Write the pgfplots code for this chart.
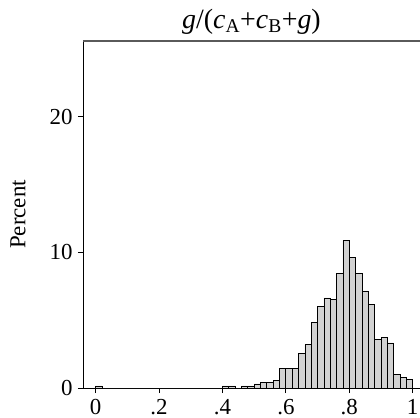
\documentclass[border=0pt]{standalone}
\usepackage{fontspec}
\setmainfont{Liberation Serif}
\usepackage{pgfplots}
\pgfplotsset{compat=1.18}
\definecolor{barfill}{RGB}{210,210,210}
\definecolor{frametop}{RGB}{90,90,90}
\begin{document}
\begin{tikzpicture}
\begin{axis}[
    scale only axis,
    width=337bp, height=347bp,
    xmin=-0.040, xmax=1.023,
    ymin=0, ymax=25.6,
    axis x line=bottom, axis y line=left,
    axis line style={-, line width=0.9bp, black},
    tick align=outside,
    major tick length=5bp,
    tick style={line width=0.9bp, black},
    xtick={0,0.2,0.4,0.6,0.8,1},
    xticklabels={0,.2,.4,.6,.8,1},
    ytick={0,10,20},
    yticklabels={0,10,20},
    tick label style={font=\fontsize{23}{27}\selectfont},
    xticklabel style={anchor=base, yshift=-21bp},
    yticklabel style={anchor=east, xshift=-2bp},
    title={\textit{g}/(\textit{c}\textsubscript{A}+\textit{c}\textsubscript{B}+\textit{g})},
    title style={at={(axis description cs:0.5,1)}, anchor=base, yshift=7bp,
                 font=\fontsize{28}{32}\selectfont},
    ylabel={Percent},
    every axis y label/.style={at={(axis description cs:0,0.5)},
                 xshift=-65bp, rotate=90, anchor=center,
                 font=\fontsize{23}{27}\selectfont},
    clip=false,
]
% 50 bins of width .02 on [0,1]
\addplot[ybar interval, fill=barfill, draw=black, line width=0.8bp] coordinates {
(0.00,0.15) (0.02,0) (0.04,0) (0.06,0) (0.08,0) (0.10,0) (0.12,0) (0.14,0)
(0.16,0) (0.18,0) (0.20,0) (0.22,0) (0.24,0) (0.26,0) (0.28,0) (0.30,0)
(0.32,0) (0.34,0) (0.36,0) (0.38,0)
(0.40,0.15) (0.42,0.15) (0.44,0) (0.46,0.15) (0.48,0.15)
(0.50,0.30) (0.52,0.42) (0.54,0.42) (0.56,0.55) (0.58,1.41)
(0.60,1.41) (0.62,1.41) (0.64,2.55) (0.66,3.18) (0.68,4.86)
(0.70,6.00) (0.72,6.64) (0.74,6.52) (0.76,8.43) (0.78,10.88)
(0.80,9.61) (0.82,8.43) (0.84,7.16) (0.86,6.15) (0.88,3.57)
(0.90,3.70) (0.92,3.32) (0.94,1.00) (0.96,0.80) (0.98,0.63)
(1.00,0.63)
};
\draw[frametop, line width=1.5bp] (rel axis cs:0,1) -- (rel axis cs:1,1);
\coordinate (ll) at (rel axis cs:0,0);
\coordinate (ur) at (rel axis cs:1,1);
\end{axis}
\pgfresetboundingbox
\path ([shift={(-83bp,-30bp)}]ll) rectangle ([shift={(0bp,41bp)}]ur);
\end{tikzpicture}
\end{document}
